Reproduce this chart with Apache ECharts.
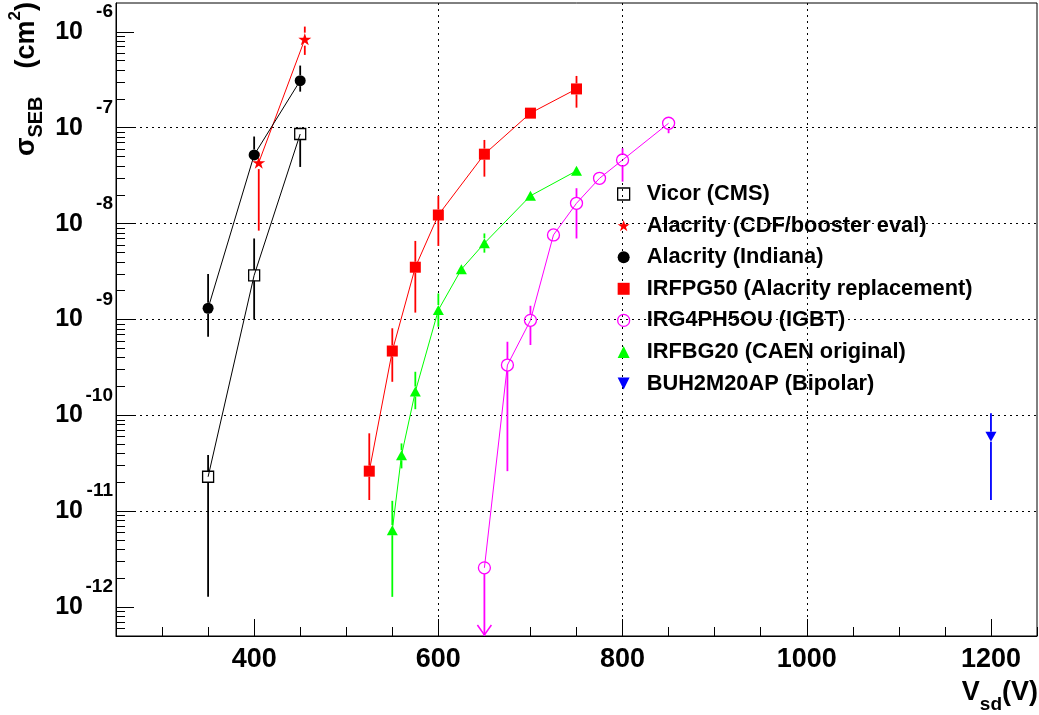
<!DOCTYPE html>
<html><head><meta charset="utf-8">
<script src="https://cdn.jsdelivr.net/npm/echarts@6/dist/echarts.min.js"></script>
<style>html,body{margin:0;padding:0;background:#fff}#c{width:1039px;height:715px}</style>
</head><body><div id="c"></div>
<script>
const FONT = "'Liberation Sans', Arial, Helvetica, sans-serif";

// axis ranges & tick labels
const xMin = 250, xMax = 1250;
const yMin = 5e-13, yMax = 2e-6;
const xMajorTicks = [400, 600, 800, 1000, 1200];
const yDecades = [1e-12, 1e-11, 1e-10, 1e-9, 1e-8, 1e-7, 1e-6];

// data: x (V), y (cm^2), low / high error ends
const vicorX  = [350, 400, 450];
const vicorY  = [2.29e-11, 2.89e-9, 8.6e-8];
const vicorLo = [1.28e-12, 1.0e-9, 3.9e-8];
const vicorHi = [3.85e-11, 7.0e-9, 1.0e-7];

const cdfX  = [405, 455];
const cdfY  = [4.33e-8, 8.39e-7];
const cdfLo = [8.45e-9, 5.75e-7];
const cdfHi = [5.5e-8, 1.135e-6];

const indX  = [350, 400, 450];
const indY  = [1.31e-9, 5.2e-8, 3.1e-7];
const indLo = [6.6e-10, 4.6e-8, 2.38e-7];
const indHi = [2.99e-9, 8.1e-8, 4.45e-7];

const pg50X  = [525, 550, 575, 600, 650, 700, 750];
const pg50Y  = [2.62e-11, 4.69e-10, 3.51e-9, 1.23e-8, 5.3e-8, 1.42e-7, 2.54e-7];
const pg50Lo = [1.31e-11, 2.24e-10, 1.18e-9, 5.85e-9, 3.09e-8, 1.42e-7, 1.62e-7];
const pg50Hi = [6.5e-11, 8.1e-10, 6.6e-9, 1.95e-8, 7.46e-8, 1.42e-7, 3.47e-7];

const igbtX  = [650, 675, 700, 725, 750, 775, 800, 850];
const igbtY  = [2.57e-12, 3.35e-10, 9.8e-10, 7.62e-9, 1.63e-8, 2.97e-8, 4.61e-8, 1.114e-7];
const igbtLo = [yMin, 2.62e-11, 5.42e-10, 7.62e-9, 7.0e-9, 2.97e-8, 2.74e-8, 8.77e-8];
const igbtHi = [2.57e-12, 5.86e-10, 1.39e-9, 7.62e-9, 2.34e-8, 2.97e-8, 6.1e-8, 1.256e-7];
const igbtArrow = [1, 0, 0, 0, 0, 0, 0, 0];

const bg20X  = [550, 560, 575, 600, 625, 650, 700, 750];
const bg20Y  = [6.35e-12, 3.83e-11, 1.77e-10, 1.256e-9, 3.34e-9, 6.24e-9, 1.95e-8, 3.55e-8];
const bg20Lo = [1.28e-12, 2.8e-11, 1.16e-10, 8.4e-10, 3.34e-9, 4.98e-9, 1.95e-8, 3.55e-8];
const bg20Hi = [1.285e-11, 5.1e-11, 2.85e-10, 1.87e-9, 3.34e-9, 7.9e-9, 1.95e-8, 3.55e-8];

const bipX  = [1200];
const bipY  = [5.98e-11];
const bipLo = [1.31e-11];
const bipHi = [1.05e-10];

const yMinorTicks = [];
[1e-13].concat(yDecades).forEach(function (d) {
  for (let m = 2; m <= 9; m++) { const v = m * d; if (v > yMin * 1.0001 && v < yMax * 0.9999) yMinorTicks.push(v); }
});

const STAR = 'path://M50,0 L61.2,34.5 97.6,34.5 68.2,55.9 79.4,90.5 50,69.1 20.6,90.5 31.8,55.9 2.4,34.5 38.8,34.5 Z';
const DOWN = 'path://M0,0 L10,0 L5,10 Z';
const CLEAR = 'rgba(0,0,0,0)';

const sets = [
  {name: 'Vicor (CMS)', x: vicorX, y: vicorY, lo: vicorLo, hi: vicorHi, color: '#000000', symbol: 'rect', size: 11, hollow: true, icon: 'rect'},
  {name: 'Alacrity (CDF/booster eval)', x: cdfX, y: cdfY, lo: cdfLo, hi: cdfHi, color: '#ff0000', symbol: STAR, size: 13, icon: STAR},
  {name: 'Alacrity (Indiana)', x: indX, y: indY, lo: indLo, hi: indHi, color: '#000000', symbol: 'circle', size: 11, icon: 'circle'},
  {name: 'IRFPG50 (Alacrity replacement)', x: pg50X, y: pg50Y, lo: pg50Lo, hi: pg50Hi, color: '#ff0000', symbol: 'rect', size: 11, icon: 'rect'},
  {name: 'IRG4PH5OU (IGBT)', x: igbtX, y: igbtY, lo: igbtLo, hi: igbtHi, arrow: igbtArrow, color: '#ff00ff', symbol: 'circle', size: 12, hollow: true, icon: 'circle'},
  {name: 'IRFBG20 (CAEN original)', x: bg20X, y: bg20Y, lo: bg20Lo, hi: bg20Hi, color: '#00ff00', symbol: 'triangle', size: [11, 10], icon: 'triangle'},
  {name: 'BUH2M20AP (Bipolar)', x: bipX, y: bipY, lo: bipLo, hi: bipHi, color: '#0000ff', symbol: DOWN, size: [11, 10], icon: DOWN}
];

function errRender(gap) {
  return function (params, api) {
    const x = api.value(0), y = api.value(1), lo = api.value(2), hi = api.value(3), arrow = api.value(4);
    const p = api.coord([x, y]);
    const pl = api.coord([x, lo]);
    const ph = api.coord([x, hi]);
    const style = {stroke: api.visual('color'), lineWidth: 1.8};
    const ch = [];
    if (ph[1] < p[1] - gap) ch.push({type: 'line', shape: {x1: p[0], y1: ph[1], x2: p[0], y2: p[1] - gap}, style: style});
    if (pl[1] > p[1] + gap) ch.push({type: 'line', shape: {x1: p[0], y1: p[1] + gap, x2: p[0], y2: pl[1]}, style: style});
    if (arrow) ch.push({type: 'polyline', shape: {points: [[pl[0] - 7, pl[1] - 11], [pl[0], pl[1] - 1], [pl[0] + 7, pl[1] - 11]]}, style: {stroke: api.visual('color'), lineWidth: 1.5, fill: null}});
    return {type: 'group', children: ch};
  };
}

const series = [];
sets.forEach(function (s) {
  const gap = (Array.isArray(s.size) ? s.size[1] : s.size) / 2;
  series.push({
    type: 'custom', name: s.name + ' err', z: 3, silent: true,
    itemStyle: {color: s.color, opacity: (s.color === '#ff0000' || s.color === '#ff00ff') ? 0.7 : 1},
    encode: {x: 0, y: 1},
    data: s.x.map(function (v, i) { return [v, s.y[i], s.lo[i], s.hi[i], s.arrow ? s.arrow[i] : 0]; }),
    renderItem: errRender(gap)
  });
  series.push({
    type: 'line', name: s.name, z: 5,
    data: s.x.map(function (v, i) { return [v, s.y[i]]; }),
    symbol: s.symbol, symbolSize: s.size, symbolKeepAspect: true, showSymbol: true,
    lineStyle: {color: s.color, width: 1},
    itemStyle: s.hollow ? {color: CLEAR, borderColor: s.color, borderWidth: 1.3} : {color: s.color},
    emphasis: {disabled: true}
  });
});

const legendData = sets.map(function (s) {
  return {name: s.name, icon: s.icon,
    itemStyle: s.hollow ? {color: CLEAR, borderColor: s.color, borderWidth: 1.3} : {color: s.color, borderWidth: 0}};
});

const dotted = {color: '#000', width: 1, type: [2, 4]};
const chart = echarts.init(document.getElementById('c'), null, {renderer: 'canvas'});
chart.setOption({
  animation: false,
  backgroundColor: '#fff',
  grid: {left: 116, right: 2, top: 3, bottom: 79, show: true, borderColor: '#000', borderWidth: 1, backgroundColor: CLEAR, containLabel: false, outerBoundsMode: 'none'},
  legend: {
    orient: 'vertical', left: 617, top: 183, padding: 0, itemGap: 9.6, itemWidth: 12, itemHeight: 12,
    selectedMode: false,
    textStyle: {fontFamily: FONT, fontWeight: 'bold', fontSize: 21.8, color: '#000', lineHeight: 21, padding: [0, 0, 0, 12]},
    data: legendData
  },
  xAxis: [
    {type: 'value', min: xMin, max: xMax, interval: 50, position: 'bottom',
      axisLine: {show: true, onZero: false, lineStyle: {color: '#000', width: 1}},
      axisTick: {show: true, inside: true, length: 9, lineStyle: {color: '#000', width: 1}},
      axisLabel: {show: false}, splitLine: {show: false}},
    {type: 'value', min: xMin, max: xMax, position: 'bottom',
      axisLine: {show: false, onZero: false},
      axisTick: {show: true, inside: true, length: 17, customValues: xMajorTicks, lineStyle: {color: '#000', width: 1}},
      axisLabel: {show: true, customValues: xMajorTicks, margin: 10, fontFamily: FONT, fontWeight: 'bold', fontSize: 27, lineHeight: 27, color: '#000',
        formatter: function (v) { return String(Math.round(v)); }},
      splitLine: {show: true, showMinLine: false, showMaxLine: false, lineStyle: dotted}}
  ],
  yAxis: [
    {type: 'log', logBase: 10, min: yMin, max: yMax, position: 'left',
      axisLine: {show: true, onZero: false, lineStyle: {color: '#000', width: 1}},
      axisTick: {show: true, inside: true, length: 18, customValues: yDecades, lineStyle: {color: '#000', width: 1}},
      axisLabel: {show: true, customValues: yDecades, margin: 3, padding: [0, 0, 20, 0],
        formatter: function (v) { return '{e|' + Math.round(Math.log10(v)) + '}\n{b|10}'; },
        rich: {
          e: {fontFamily: FONT, fontWeight: 'bold', fontSize: 19, lineHeight: 20, color: '#000', align: 'right'},
          b: {fontFamily: FONT, fontWeight: 'bold', fontSize: 25, lineHeight: 20, color: '#000', align: 'right', padding: [0, 30, 0, 0]}
        }},
      splitLine: {show: true, showMinLine: false, showMaxLine: false, lineStyle: dotted}},
    {type: 'log', logBase: 10, min: yMin, max: yMax, position: 'left',
      axisLine: {show: false, onZero: false},
      axisTick: {show: true, inside: true, length: 9, customValues: yMinorTicks, lineStyle: {color: '#000', width: 1}},
      axisLabel: {show: false}, splitLine: {show: false}}
  ],
  graphic: [
    {type: 'text', right: 1, top: 679, silent: true,
      style: {text: '{m|V}{s|sd}{m|(V)}', fill: '#000',
        rich: {
          m: {fontFamily: FONT, fontWeight: 'bold', fontSize: 27, lineHeight: 27, padding: [0, 0, 8, 0], color: '#000'},
          s: {fontFamily: FONT, fontWeight: 'bold', fontSize: 19, lineHeight: 19, padding: [16, 0, 0, 0], color: '#000'}
        }}},
    {type: 'text', x: 27, y: 2, rotation: Math.PI / 2, silent: true,
      style: {text: '{m|σ}{s|SEB}{m|  (cm}{p|2}{m|)}', align: 'right', verticalAlign: 'middle', fill: '#000',
        rich: {
          m: {fontFamily: FONT, fontWeight: 'bold', fontSize: 27, lineHeight: 27, padding: [9, 0, 9, 0], color: '#000'},
          s: {fontFamily: FONT, fontWeight: 'bold', fontSize: 20, lineHeight: 20, padding: [22, 13, 3, 0], color: '#000'},
          p: {fontFamily: FONT, fontWeight: 'bold', fontSize: 17, lineHeight: 17, padding: [2, 0, 26, 0], color: '#000'}
        }}}
  ],
  series: series
});
</script></body></html>
